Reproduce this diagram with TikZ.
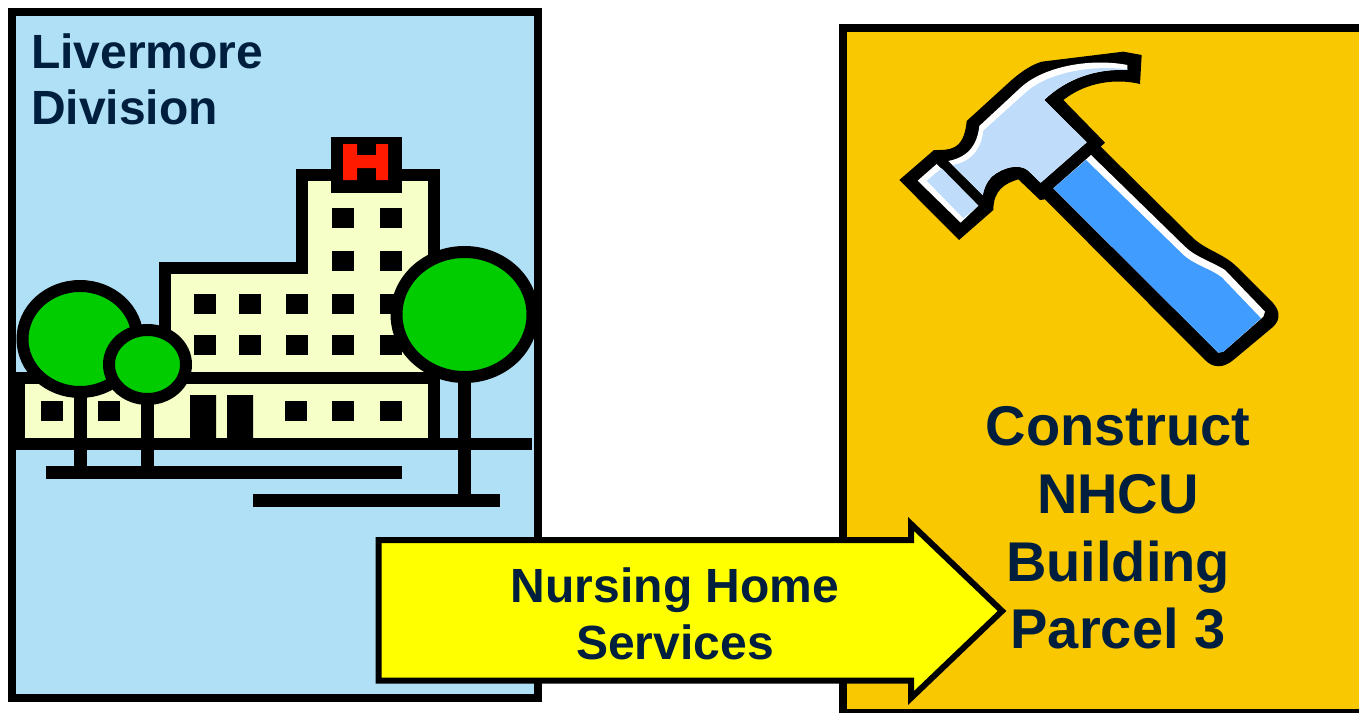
\documentclass[tikz,border=0pt]{standalone}
\usepackage{fontspec}
\setmainfont{Liberation Sans}
\definecolor{panelblue}{HTML}{B0E0F5}
\definecolor{panelorange}{HTML}{FAC800}
\definecolor{wallcream}{HTML}{F6FFC8}
\definecolor{treegreen}{HTML}{00CC00}
\definecolor{crossred}{HTML}{FF1A00}
\definecolor{labelnavy}{HTML}{001F3F}
\definecolor{headblue}{HTML}{BFDDFB}
\definecolor{gripblue}{HTML}{409CFF}
\definecolor{banneryellow}{HTML}{FFFF00}

\begin{document}
\begin{tikzpicture}
  [
  x=1pt, y=-1pt, line join=miter,
  panel/.style={draw=black,line width=8pt},
  wall/.style={draw=black,line width=12pt},
  bar/.style={line width=13pt},
  crown/.style={draw=black,fill=treegreen,line width=12pt},
  title/.style={font=\bfseries\fontsize{48}{57}\selectfont,text=labelnavy,inner sep=0pt},
  big title/.style={title,font=\bfseries\fontsize{56}{68}\selectfont,anchor=base},
  banner/.style={draw=black,fill=banneryellow,line width=6pt}
  ]
  \useasboundingbox (0,0) rectangle (1359,712);

  % panels
  \path[panel,fill=panelblue]   (12,12) rectangle (538,698);
  \path[panel,fill=panelorange] (843,28) rectangle (1370,713);

  % hospital
  \filldraw[wall,fill=wallcream] (19,378) -- (164.5,378) -- (164.5,268) -- (301.5,268) -- (301.5,175)
    -- (433.5,175) -- (433.5,444) -- (19,444) -- cycle;
  \draw[wall] (16,378) -- (433.5,378);
  \fill (331,137) rectangle (402,193);
  \fill[crossred] (343,144) rectangle (357,180) (376,144) rectangle (388,180) (357,155) rectangle (376,168);
  \foreach \wx/\wy in {332/208,380/208,332/251,380/251,
                       194/294,239/294,286/294,332/294,380/294,
                       194/335,239/335,286/335,332/335,380/335,
                       41/401,98/401,285/401,332/401,380/401}
    \fill (\wx,\wy) rectangle +(22,20);
  \fill (190,395) rectangle (216,440) (227,395) rectangle (253,440);

  % ground and trunks
  \draw[wall] (16,444) -- (532,444);
  \draw[bar] (46,472.5) -- (401.5,472.5);
  \draw[bar] (253,500.5) -- (500,500.5);
  \draw[bar] (80.5,390) -- (80.5,468);
  \draw[bar] (147.5,390) -- (147.5,468);
  \draw[bar] (464,370) -- (464,496);

  % trees
  \draw[crown] (80,339) ellipse [x radius=57.5, y radius=53];
  \draw[crown] (147.5,364.5) ellipse [x radius=38.5, y radius=34.5];
  \draw[crown] (464.5,314.5) ellipse [x radius=68, y radius=62.5];

  % hammer, in crop coordinates
  \begin{scope}[xshift=890pt, yshift=-40pt, scale=1/3]
    \fill (28,420) -- (132,330) .. controls (175,330) and (222,335) .. (230,243) -- (365,120)
      .. controls (400,90) and (425,75) .. (455,65) -- (700,35) -- (755,45) -- (750,132)
      .. controls (680,115) and (590,125) .. (520,180) -- (645,308) -- (632,320) -- (905,590)
      .. controls (945,630) and (1000,640) .. (1040,680) -- (1135,775)
      .. controls (1170,805) and (1175,835) .. (1150,860) -- (1030,960)
      .. controls (1000,985) and (970,985) .. (945,960) -- (465,478) -- (450,480) -- (385,418)
      .. controls (345,430) and (310,450) .. (310,510) -- (207,600) -- cycle;
    % face
    \fill[white] (83,422) -- (140,372) -- (265,497) -- (212,548) -- cycle;
    \fill[headblue] (110,422) -- (155,385) -- (265,497) -- (220,535) -- cycle;
    % head
    \fill[white] (175,363) .. controls (240,350) and (262,310) .. (268,258) -- (395,140)
      .. controls (470,75) and (610,55) .. (712,75) -- (712,90)
      .. controls (620,85) and (530,115) .. (462,180) -- (590,307) -- (452,428) -- (415,392)
      .. controls (390,370) and (340,380) .. (305,410) .. controls (290,425) and (282,445) .. (278,465) -- cycle;
    \fill[headblue] (188,375) .. controls (250,365) and (275,320) .. (280,272) -- (410,155)
      .. controls (480,95) and (610,75) .. (712,88) -- (712,90)
      .. controls (620,85) and (530,115) .. (462,180) -- (590,307) -- (452,428) -- (415,392)
      .. controls (390,370) and (340,380) .. (305,410) .. controls (290,425) and (282,445) .. (278,465) -- cycle;
    % handle
    \fill[white] (490,445) -- (603,345) -- (885,620) .. controls (915,650) and (965,665) .. (1005,690)
      -- (1125,815) -- (1120,830) -- (1000,935) -- (985,938) -- cycle;
    \fill[gripblue] (490,445) -- (588,360) -- (875,640) .. controls (910,675) and (960,685) .. (995,712)
      -- (1113,835) -- (1000,935) -- (985,938) -- cycle;
  \end{scope}

  % arrow
  \filldraw[banner] (378.5,540) -- (911,540) -- (911,524) -- (1002,611) -- (911,698) -- (911,680.5) -- (378.5,680.5) -- cycle;

  \node[title,anchor=base west] (livermore) at (31,68) {Livermore};
  \node[title,anchor=base west] (division)  at (31,124) {Division};
  \node[title,anchor=base] (nursing)  at (675,602) {Nursing Home};
  \node[title,anchor=base] (services) at (675,659) {Services};
  \node[big title] (construct) at (1118,445) {Construct};
  \node[big title] (nhcu)      at (1118,513) {NHCU};
  \node[big title] (building)  at (1118,581) {Building};
  \node[big title] (parcel)    at (1118,648) {Parcel 3};
\end{tikzpicture}
\end{document}
